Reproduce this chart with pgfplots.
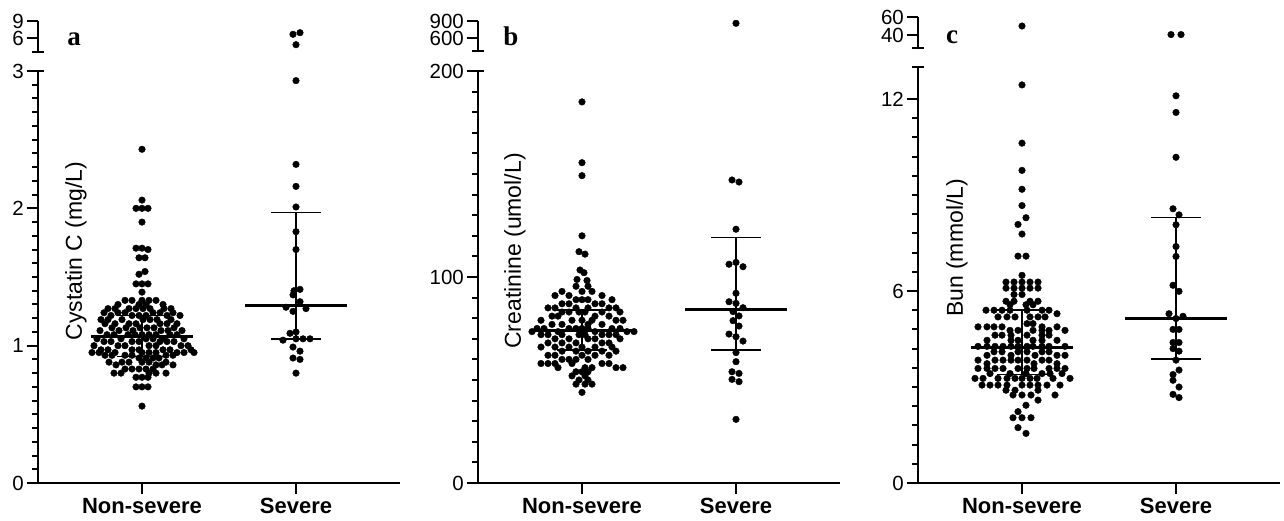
\documentclass[border=0pt]{standalone}
\usepackage{fontspec}
\setmainfont{Liberation Sans}
\newfontfamily\tnr{Liberation Serif}
\usepackage{pgfplots}
\usepackage{pgfplotstable}
\pgfplotsset{compat=1.18}

% dx = horizontal swarm offset (px), v = value
\pgfplotstableread[row sep=\\]{
dx v\\
0 2.43\\ 0 2.06\\ -6 2.00\\ 0 2.00\\ 6 2.00\\ 0 1.90\\
-6 1.71\\ 0 1.71\\ 6 1.70\\ -3 1.64\\ 3 1.64\\ 3 1.54\\ -3 1.52\\
-6 1.45\\ 0 1.45\\ 6 1.45\\ 0 1.39\\
-17 1.33\\ -10 1.33\\ 0 1.33\\ 7 1.33\\ 14 1.33\\
-24 1.30\\ -3 1.30\\ 4 1.30\\ 21 1.30\\
-34 1.27\\ -27 1.27\\ -13 1.27\\ -6 1.27\\ 1 1.27\\ 8 1.27\\ 22 1.27\\ 29 1.27\\
-38 1.24\\ -24 1.24\\ -17 1.24\\ 11 1.24\\ 18 1.24\\ 31 1.24\\
-31 1.22\\ -10 1.22\\ -3 1.22\\ 4 1.22\\ 25 1.22\\ 38 1.22\\
-41 1.19\\ -34 1.19\\ -20 1.19\\ 1 1.19\\ 8 1.19\\ 15 1.19\\ 29 1.19\\
-37 1.16\\ -27 1.16\\ -13 1.16\\ -6 1.16\\ 18 1.16\\ 25 1.16\\ 35 1.16\\
-30 1.13\\ -16 1.13\\ -2 1.13\\ 5 1.13\\ 12 1.13\\ 32 1.13\\
-42 1.11\\ -23 1.11\\ -9 1.11\\ 19 1.11\\ 26 1.11\\ 40 1.11\\
-35 1.08\\ -28 1.08\\ -14 1.08\\ -7 1.08\\ 0 1.08\\ 7 1.08\\ 14 1.08\\ 28 1.08\\ 35 1.08\\
-45 1.05\\ -21 1.05\\ 4 1.05\\ 11 1.05\\ 21 1.05\\ 42 1.05\\
-38 1.03\\ -31 1.03\\ -10 1.03\\ -3 1.03\\ 18 1.03\\ 25 1.03\\ 32 1.03\\
-48 1.00\\ -24 1.00\\ -17 1.00\\ 7 1.00\\ 14 1.00\\ 39 1.00\\ 46 1.00\\
-41 0.97\\ -34 0.97\\ -10 0.97\\ -3 0.97\\ 21 0.97\\ 28 0.97\\ 49 0.97\\
-50 0.95\\ -43 0.95\\ -27 0.95\\ 0 0.95\\ 7 0.95\\ 14 0.95\\ 35 0.95\\ 42 0.95\\ 52 0.95\\
-37 0.93\\ -30 0.93\\ -17 0.93\\ -10 0.93\\ 24 0.93\\ 31 0.93\\
-3 0.91\\ 4 0.91\\ 11 0.91\\ 17 0.91\\
-33 0.88\\ -20 0.88\\ -13 0.88\\ 0 0.88\\ 7 0.88\\ 24 0.88\\
-26 0.86\\ 14 0.86\\ 20 0.86\\ 31 0.86\\
-17 0.83\\ -10 0.83\\ -3 0.83\\ 4 0.83\\ 11 0.83\\
-28 0.80\\ -21 0.80\\ 7 0.80\\ 14 0.80\\ 24 0.80\\
-6 0.77\\ 0 0.77\\ 6 0.77\\
-6 0.70\\ 0 0.70\\ 6 0.70\\
0 0.56\\
}\aNon

\pgfplotstableread[row sep=\\]{
dx v\\
-3 6.65\\ 4 6.94\\ 0 4.82\\ 0 2.93\\ 0 2.32\\ 0 2.16\\ 0 2.01\\ 0 1.83\\ 0 1.70\\
-2 1.40\\ 4 1.41\\ -3 1.37\\ 4 1.32\\ -10 1.28\\ 10 1.27\\ -3 1.25\\
-6 1.09\\ 0 1.10\\ -13 1.04\\ 0 1.05\\ 7 1.05\\ 14 1.05\\ -3 0.99\\ 4 0.96\\
-3 0.91\\ 4 0.90\\ 0 0.80\\
}\aSev

\pgfplotstableread[row sep=\\]{
dx v\\
0 185\\ 0 155.5\\ 0 149.2\\ 0 120\\ -3 112.3\\ 3 111.1\\ -2 103.4\\ 2 102.1\\ -5 98.8\\ 5 98.3\\
-6 95.5\\ 6 95.5\\
-20 93\\ 0 93\\ 10 93\\
-27 91\\ -13 91\\ 20 91\\
-6 89\\ 0 89\\ 6 89\\ 30 89\\
-20 87\\ -13 87\\ 13 87\\ 20 87\\
-34 85\\ -27 85\\ -6 85\\ 6 85\\ 27 85\\ 34 85\\
-20 83\\ -13 83\\ -3 83\\ 3 83\\ 20 83\\ 38 83\\
-30 81\\ -24 81\\ 13 81\\ 27 81\\
-41 79\\ -10 79\\ 0 79\\ 10 79\\ 34 79\\ 41 79\\
-30 77\\ -20 77\\ 6 77\\ 20 77\\
-45 75\\ -38 75\\ -13 75\\ -6 75\\ 0 75\\ 6 75\\ 30 75\\ 38 75\\
-50 73.5\\ -24 73.5\\ 13 73.5\\ 45 73.5\\ 52 73.5\\
-41 72\\ -34 72\\ -20 72\\ -3 72\\ 3 72\\ 20 72\\ 27 72\\ 34 72\\
-27 70\\ -13 70\\ 6 70\\ 13 70\\ 38 70\\
-34 68\\ -20 68\\ -6 68\\ 20 68\\ 27 68\\
-41 66\\ -27 66\\ -13 66\\ 0 66\\ 13 66\\ 30 66\\
-20 64\\ -6 64\\ 6 64\\ 20 64\\ 34 64\\
-34 62\\ -27 62\\ 0 62\\ 13 62\\ 27 62\\
-20 60\\ -13 60\\ -6 60\\ 6 60\\
-41 58\\ -34 58\\ -27 58\\ -10 58\\ 20 58\\ 27 58\\
-24 56\\ 3 56\\ 10 56\\ 34 56\\ 41 56\\
-6 54\\ 0 54\\ 6 54\\
-10 52\\ 3 52\\
-3 50\\ 6 50\\
-6 48\\ 3 48\\ 10 48\\
0 44\\
}\bNon

\pgfplotstableread[row sep=\\]{
dx v\\
0 859\\ -4 147.1\\ 3 146.1\\ 0 123.2\\ -7 106.2\\ 0 107.1\\ 7 105\\ 0 92.1\\
-7 88\\ 0 87.2\\ 7 85.1\\ -3 83.2\\ 3 81.1\\ -3 78.8\\ 3 76.2\\
-7 72.3\\ 0 71\\ 7 68.9\\ 0 63.3\\ 0 58.9\\ -4 54\\ 3 53.2\\ -4 50.3\\ 3 49.2\\ 0 30.9\\
}\bSev

\pgfplotstableread[row sep=\\]{
dx v\\
0 50\\ 0 12.44\\ 0 10.62\\ 0 9.77\\ 0 9.18\\ 0 8.67\\ 4 8.29\\ -4 8.08\\ 0 7.78\\
-4 7.09\\ 4 7.09\\ 0 6.49\\
-16 6.28\\ -8 6.28\\ 0 6.28\\ 8 6.28\\ 16 6.28\\
-16 6.09\\ -8 6.09\\ 0 6.09\\ 8 6.09\\ 16 6.09\\
-8 5.89\\ 0 5.89\\
-16 5.68\\ -8 5.68\\ 8 5.68\\ 16 5.68\\
-12 5.57\\ 4 5.57\\ 11 5.57\\
-36 5.40\\ -28 5.40\\ -20 5.40\\ -12 5.40\\ 5 5.40\\ 20 5.40\\ 27 5.40\\
35 5.29\\
-24 5.19\\ -15 5.19\\ -7 5.19\\ 8 5.19\\ 16 5.19\\ 23 5.19\\
5 4.98\\ 11 4.98\\
-44 4.88\\ -35 4.88\\ -28 4.88\\ -20 4.88\\ 20 4.88\\ 35 4.88\\
-12 4.77\\ -4 4.77\\ 11 4.77\\ 20 4.77\\ 27 4.77\\ 43 4.77\\
-27 4.62\\ -20 4.62\\ -11 4.62\\ 5 4.62\\ 20 4.62\\ 27 4.62\\
-35 4.46\\ -11 4.46\\ -4 4.46\\ 11 4.46\\ 20 4.46\\ 35 4.46\\
-44 4.27\\ -35 4.27\\ -27 4.27\\ -19 4.27\\ -11 4.27\\ -4 4.27\\ 5 4.27\\ 11 4.27\\ 20 4.27\\ 27 4.27\\ 43 4.27\\
-28 4.10\\ -20 4.10\\ -4 4.10\\ 5 4.10\\ 20 4.10\\ 27 4.10\\
-35 3.99\\ -11 3.99\\ 13 3.99\\ 35 3.99\\ 43 3.99\\
-44 3.84\\ -27 3.84\\ -19 3.84\\ -11 3.84\\ -4 3.84\\ 5 3.84\\ 20 3.84\\ 27 3.84\\
-35 3.73\\ 12 3.73\\ 35 3.73\\
-44 3.58\\ -35 3.58\\ -27 3.58\\ -19 3.58\\ -4 3.58\\ 5 3.58\\ 12 3.58\\ 27 3.58\\ 35 3.58\\ 43 3.58\\
-32 3.42\\ -12 3.42\\ 4 3.42\\ 20 3.42\\ 28 3.42\\ 40 3.42\\
-47 3.27\\ -39 3.27\\ -24 3.27\\ -15 3.27\\ -7 3.27\\ 0 3.27\\ 8 3.27\\ 15 3.27\\ 31 3.27\\ 48 3.27\\
-40 3.06\\ -32 3.06\\ -24 3.06\\ -15 3.06\\ 0 3.06\\ 8 3.06\\ 16 3.06\\ 25 3.06\\ 38 3.06\\
-16 2.90\\ -7 2.90\\ 16 2.90\\
-9 2.75\\ 0 2.75\\ 9 2.75\\ 33 2.75\\
16 2.59\\ 4 2.43\\ -4 2.23\\
-9 2.04\\ 0 2.04\\ 9 2.04\\
-4 1.73\\ 4 1.55\\
}\cNon

\pgfplotstableread[row sep=\\]{
dx v\\
-5 40.5\\ 5 40.5\\ 0 12.1\\ 0 11.58\\ 0 10.18\\ -3 8.57\\ 3 8.38\\ 0 8.07\\ 0 7.39\\ 0 7.08\\
-3 6.18\\ 3 5.99\\ -7 5.29\\ 0 5.14\\ 7 5.21\\ -3 4.80\\ 3 4.80\\ -3 4.39\\ 3 4.39\\
-3 4.20\\ 3 4.12\\ 0 3.84\\ 3 3.53\\ -3 3.39\\ -3 3.21\\ 3 3.00\\ -3 2.77\\ 3 2.67\\
}\cSev

\pgfplotsset{
  swarm/.style={only marks, mark=*, mark size=3.3pt, black},
  base/.style={
    scale only axis, width=362pt, clip=false,
    xmin=-104, xmax=258,
    axis line style={line width=2pt, -},
    tick style={line width=2pt, black},
    tick align=outside,
    major tick length=11pt, minor tick length=6pt,
    yticklabel style={font=\fontsize{20.5}{22}\selectfont, inner sep=0pt, xshift=-3pt},
  },
  low/.style={base, height=412pt, axis x line*=bottom, axis y line*=left,
    xtick={0,154}, xticklabels={Non-severe,Severe},
    xticklabel style={font=\bfseries\fontsize{22}{24}\selectfont, yshift=-1pt},
    minor y tick num=9, ymin=0},
  up/.style={base, axis y line*=left, axis x line=none, xtick=\empty},
}

% median (thick) and interquartile range with caps
\newcommand\statsN[3]{%
  \addplot[black, line width=1.5pt] coordinates {(0,#2) (0,#3)};
  \addplot[black, line width=1.5pt] coordinates {(-25,#2) (25,#2)};
  \addplot[black, line width=1.5pt] coordinates {(-25,#3) (25,#3)};
  \addplot[black, line width=3pt] coordinates {(-51,#1) (51,#1)};}
\newcommand\statsS[3]{%
  \addplot[black, line width=1.5pt] coordinates {(154,#2) (154,#3)};
  \addplot[black, line width=1.5pt] coordinates {(129,#2) (179,#2)};
  \addplot[black, line width=1.5pt] coordinates {(129,#3) (179,#3)};
  \addplot[black, line width=3pt] coordinates {(103,#1) (205,#1)};}
\newcommand\topcap{\draw[line width=2pt] ([xshift=-6pt]rel axis cs:0,1) -- ([xshift=6pt]rel axis cs:0,1);}
\newcommand\botcap{\draw[line width=2pt] ([xshift=-6pt]rel axis cs:0,0) -- ([xshift=6pt]rel axis cs:0,0);}

\begin{document}
\begin{tikzpicture}
\useasboundingbox (0,0) rectangle (1284pt,-520pt);

% ---- panel a ----
\begin{axis}[low, at={(38pt,-483pt)}, anchor=south west,
  ymax=3, ytick={0,1,2,3}, yticklabels={0,1,2,3}]
\addplot[swarm, restrict y to domain=0:3] table[x=dx, y=v] {\aNon};
\addplot[swarm, restrict y to domain=0:3] table[x expr=\thisrow{dx}+154, y=v] {\aSev};
\statsN{1.07}{0.92}{1.22}
\statsS{1.29}{1.05}{1.97}
\topcap
\node[rotate=90, font=\fontsize{23}{26}\selectfont] at ([xshift=38pt]rel axis cs:0,0.563) {Cystatin C (mg/L)};
\end{axis}
\begin{axis}[up, at={(38pt,-52pt)}, anchor=south west, height=31pt,
  ymin=3.53, ymax=9, ytick={6,9}, yticklabels={6,9}]
\addplot[swarm, restrict y to domain=3.5:10] table[x expr=\thisrow{dx}+154, y=v] {\aSev};
\botcap
\end{axis}

% ---- panel b ----
\begin{axis}[low, at={(478pt,-483pt)}, anchor=south west,
  ymax=200, ytick={0,100,200}, yticklabels={0,100,200}]
\addplot[swarm, restrict y to domain=0:200] table[x=dx, y=v] {\bNon};
\addplot[swarm, restrict y to domain=0:200] table[x expr=\thisrow{dx}+154, y=v] {\bSev};
\statsN{73.9}{64.6}{84.0}
\statsS{84.0}{64.6}{119.1}
\topcap
\node[rotate=90, font=\fontsize{23}{26}\selectfont] at ([xshift=37pt]rel axis cs:0,0.563) {Creatinine (umol/L)};
\end{axis}
\begin{axis}[up, at={(478pt,-51pt)}, anchor=south west, height=30pt,
  ymin=370, ymax=900, ytick={600,900}, yticklabels={600,900}]
\addplot[swarm, restrict y to domain=300:1000] table[x expr=\thisrow{dx}+154, y=v] {\bSev};
\botcap
\end{axis}

% ---- panel c ----
\begin{axis}[low, at={(918pt,-483pt)}, anchor=south west, height=416pt,
  ymax=13, ytick={0,6,12}, yticklabels={0,6,12}]
\addplot[swarm, restrict y to domain=0:13] table[x=dx, y=v] {\cNon};
\addplot[swarm, restrict y to domain=0:13] table[x expr=\thisrow{dx}+154, y=v] {\cSev};
\statsN{4.25}{3.39}{5.40}
\statsS{5.14}{3.88}{8.29}
\topcap
\node[rotate=90, font=\fontsize{23}{26}\selectfont] at ([xshift=39pt]rel axis cs:0,0.565) {Bun (mmol/L)};
\end{axis}
\begin{axis}[up, at={(918pt,-48pt)}, anchor=south west, height=31pt,
  ymin=25.6, ymax=60, ytick={40,60}, yticklabels={40,60}]
\addplot[swarm, restrict y to domain=20:70] table[x=dx, y=v] {\cNon};
\addplot[swarm, restrict y to domain=20:70] table[x expr=\thisrow{dx}+154, y=v] {\cSev};
\botcap
\end{axis}

% panel letters
\node[anchor=base, font=\tnr\bfseries\fontsize{27}{30}\selectfont] at (74pt,-45pt) {a};
\node[anchor=base, font=\tnr\bfseries\fontsize{27}{30}\selectfont] at (511pt,-45pt) {b};
\node[anchor=base, font=\tnr\bfseries\fontsize{27}{30}\selectfont] at (952pt,-43pt) {c};
\end{tikzpicture}
\end{document}
